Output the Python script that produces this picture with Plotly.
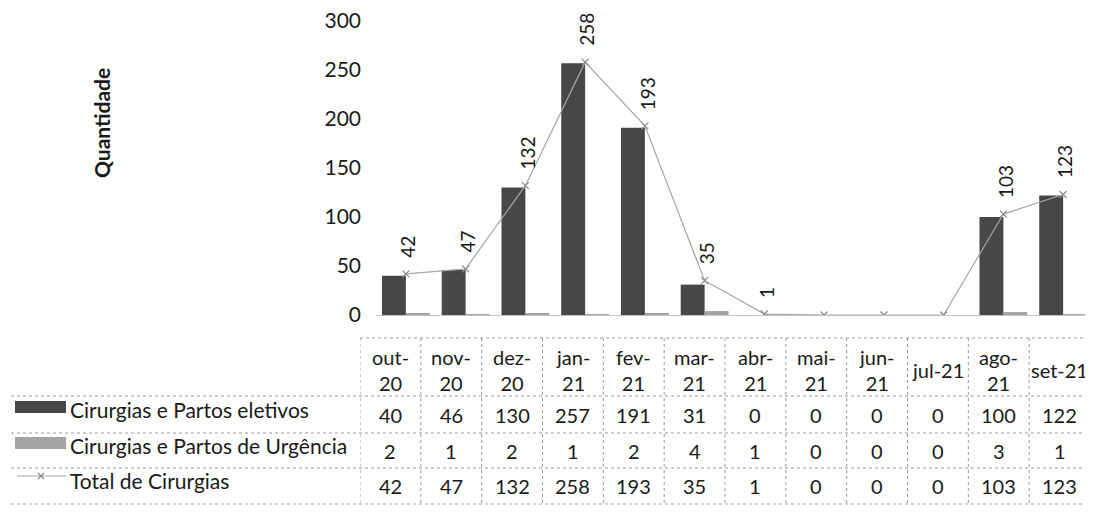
import plotly.graph_objects as go

# ---- data ----
months = ["out-20", "nov-20", "dez-20", "jan-21", "fev-21", "mar-21",
          "abr-21", "mai-21", "jun-21", "jul-21", "ago-21", "set-21"]
month_labels = ["out-<br>20", "nov-<br>20", "dez-<br>20", "jan-<br>21", "fev-<br>21", "mar-<br>21",
                "abr-<br>21", "mai-<br>21", "jun-<br>21", "jul-21", "ago-<br>21", "set-21"]
eletivos = [40, 46, 130, 257, 191, 31, 0, 0, 0, 0, 100, 122]
urgencia = [2, 1, 2, 1, 2, 4, 1, 0, 0, 0, 3, 1]
total = [42, 47, 132, 258, 193, 35, 1, 0, 0, 0, 103, 123]
series_names = ["Cirurgias e Partos eletivos", "Cirurgias e Partos de Urgência", "Total de Cirurgias"]
y_ticks = [0, 50, 100, 150, 200, 250, 300]
y_title = "Quantidade"

# ---- style ----
W, H = 1093, 512
OFF = 8  # page offset of the figure
FONT = "Lato"
C_DARK = "#474747"
C_LIGHT = "#a3a3a3"
C_LINE = "#a6a6a6"
C_GRID = "#9a9a9a"
TXT = "#1a1a1a"


def px_x(x):
    return (x - OFF) / W


def px_y(y):
    return 1 - (y - OFF) / H


idx = list(range(len(months)))

fig = go.Figure()
fig.add_trace(go.Bar(x=idx, y=eletivos, name=series_names[0], marker_color=C_DARK,
                     marker_line_width=0, showlegend=False))
fig.add_trace(go.Bar(x=idx, y=urgencia, name=series_names[1], marker_color=C_LIGHT,
                     marker_line_width=0, showlegend=False))
fig.add_trace(go.Scatter(x=idx, y=total, name=series_names[2], mode="lines+markers",
                         line=dict(color=C_LINE, width=1.2),
                         marker=dict(symbol="x-thin", size=7, line=dict(color="#8a8a8a", width=1.2)),
                         showlegend=False))
# helper trace so the table axis exists
fig.add_trace(go.Scatter(x=idx, y=[0.5] * len(idx), xaxis="x2", yaxis="y2", mode="markers",
                         marker=dict(opacity=0), hoverinfo="skip", showlegend=False))

annotations = []
shapes = []

# data labels above the total line
for i, v in enumerate(total):
    if v > 0:
        annotations.append(dict(x=i, y=v, xref="x", yref="y", text=str(v), textangle=-90,
                                showarrow=False, yanchor="bottom", xanchor="center",
                                yshift=14, xshift=2, font=dict(family=FONT, size=19, color=TXT)))

# table rows
ROW_HDR = 370
ROW_Y = [415, 451, 486]
rows = [eletivos, urgencia, total]
for i in idx:
    annotations.append(dict(x=i, y=px_y(ROW_HDR), xref="x2", yref="paper", text=month_labels[i],
                            showarrow=False, yanchor="middle", xanchor="center",
                            font=dict(family=FONT, size=20, color=TXT)))
    for r, vals in enumerate(rows):
        annotations.append(dict(x=i, y=px_y(ROW_Y[r]), xref="x2", yref="paper", text=str(vals[i]),
                                showarrow=False, yanchor="middle", xanchor="center",
                                font=dict(family=FONT, size=20, color=TXT)))

# legend column
for r, name in enumerate(series_names):
    annotations.append(dict(x=px_x(68), y=px_y(ROW_Y[r] - 6), xref="paper", yref="paper", text=name,
                            showarrow=False, yanchor="middle", xanchor="left",
                            font=dict(family=FONT, size=21, color=TXT)))
key_cols = [C_DARK, C_LIGHT]
for r in range(2):
    yc = ROW_Y[r] - 8
    shapes.append(dict(type="rect", xref="paper", yref="paper", x0=px_x(15), x1=px_x(66),
                       y0=px_y(yc + 6), y1=px_y(yc - 6), fillcolor=key_cols[r], line=dict(width=0)))
yc = ROW_Y[2] - 10
shapes.append(dict(type="line", xref="paper", yref="paper", x0=px_x(17), x1=px_x(66),
                   y0=px_y(yc), y1=px_y(yc), line=dict(color=C_LINE, width=1.2)))
for dx, dy in [(1, 1), (1, -1)]:
    shapes.append(dict(type="line", xref="paper", yref="paper", x0=px_x(41 - 3 * dx), x1=px_x(41 + 3 * dx),
                       y0=px_y(yc - 3 * dy), y1=px_y(yc + 3 * dy), line=dict(color="#8a8a8a", width=1.2)))

# table grid (dotted)
grid = dict(color=C_GRID, width=1, dash="dot")
shapes.append(dict(type="line", xref="x2", yref="paper", x0=-0.5, x1=len(months) - 0.5,
                   y0=px_y(338), y1=px_y(338), line=grid))
for yl in [396, 433, 468, 504]:
    shapes.append(dict(type="line", xref="paper", yref="paper", x0=px_x(5), x1=px_x(1090),
                       y0=px_y(yl), y1=px_y(yl), line=grid))
for k in range(len(months) + 1):
    shapes.append(dict(type="line", xref="x2", yref="paper", x0=k - 0.5, x1=k - 0.5,
                       y0=px_y(338), y1=px_y(504), line=grid))
shapes.append(dict(type="line", xref="paper", yref="paper", x0=px_x(5), x1=px_x(5),
                   y0=px_y(396), y1=px_y(504), line=grid))

# y axis title
annotations.append(dict(x=px_x(101), y=px_y(123), xref="paper", yref="paper", text="<b>" + y_title + "</b>",
                        textangle=-90, showarrow=False, xanchor="center", yanchor="middle",
                        font=dict(family=FONT, size=21, color=TXT)))

fig.update_layout(
    template="none",
    width=W, height=H,
    margin=dict(l=0, r=0, t=0, b=0, autoexpand=False),
    paper_bgcolor="white", plot_bgcolor="white",
    barmode="group", bargap=0.2, bargroupgap=0,
    font=dict(family=FONT, size=20, color=TXT),
    showlegend=False,
    xaxis=dict(domain=[px_x(376), px_x(1093)], range=[-0.5, len(months) - 0.5],
               showticklabels=False, showgrid=False, zeroline=False, automargin=False,
               showline=True, linecolor="#c4c4c4", linewidth=1, ticks="", anchor="y"),
    yaxis=dict(domain=[px_y(315), px_y(21)], range=[0, 300], tickvals=y_ticks, automargin=False,
               showgrid=False, zeroline=False, showline=False, ticks="", ticklabeloverflow="allow",
               ticklabelstandoff=14, tickfont=dict(family=FONT, size=21, color=TXT), anchor="x"),
    xaxis2=dict(domain=[px_x(360), px_x(1090)], range=[-0.5, len(months) - 0.5],
                visible=False, anchor="y2", automargin=False),
    yaxis2=dict(domain=[0, 0.02], range=[0, 1], visible=False, anchor="x2", automargin=False),
    annotations=annotations,
    shapes=shapes,
)

fig.write_html("out.html")
